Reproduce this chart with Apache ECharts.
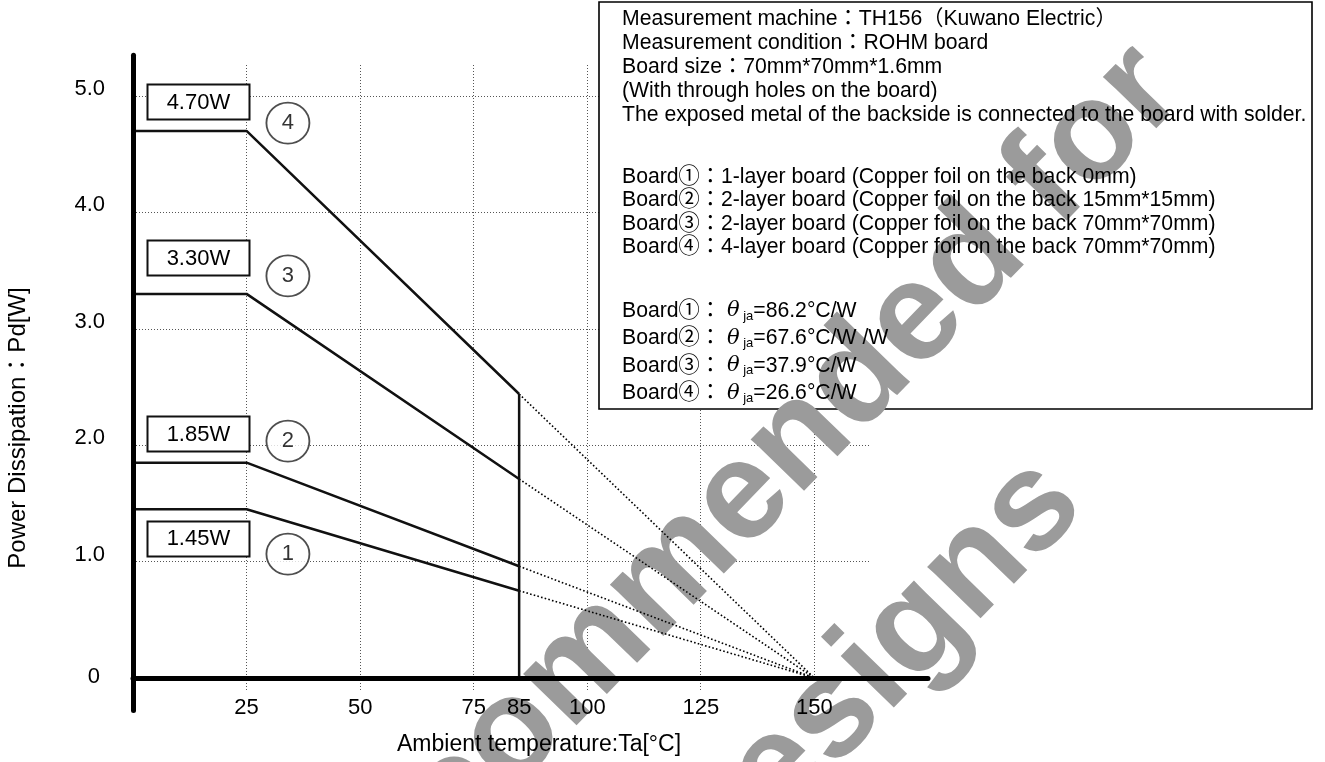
<!DOCTYPE html>
<html><head><meta charset="utf-8">
<script src="https://cdn.jsdelivr.net/npm/echarts@6/dist/echarts.min.js"></script>
<style>html,body{margin:0;padding:0;background:#fff}#c{width:1325px;height:762px}</style>
</head><body><div id="c"></div>
<script>
// ---------- data ----------
const boards = ['1', '2', '3', '4'];
const pdRated = [1.45, 1.85, 3.30, 4.70];      // Pd [W] up to Ta = 25 °C
const pdAt85 = [0.75, 0.96, 1.71, 2.44];       // Pd [W] at Ta = 85 °C
const taKnee = 25;
const taLimit = 85;
const taZero = 150;
const ratedLabels = ['1.45W', '1.85W', '3.30W', '4.70W'];
const xTickLabels = [25, 50, 75, 85, 100, 125, 150];
const xGridValues = [25, 50, 75, 100, 125, 150];
const yTickLabels = [0, 1, 2, 3, 4, 5];
const yGridValues = [1, 2, 3, 4, 5];
// annotation anchors in data coordinates
const boxAnchorX = 14.4;
const boxAnchorY = [1.20, 2.10, 3.61, 4.95];
const circleAnchorX = 34.1;
const circleAnchorY = [1.065, 2.036, 3.454, 4.768];

const noteHead = [
  'Measurement machine：TH156（Kuwano Electric）',
  'Measurement condition：ROHM board',
  'Board size：70mm*70mm*1.6mm',
  '(With through holes on the board)',
  'The exposed metal of the backside is connected to the board with solder.'
];
const noteBoards = [
  'Board①：1-layer board (Copper foil on the back 0mm)',
  'Board②：2-layer board (Copper foil on the back 15mm*15mm)',
  'Board③：2-layer board (Copper foil on the back 70mm*70mm)',
  'Board④：4-layer board (Copper foil on the back 70mm*70mm)'
];
const thetaBoards = ['Board①', 'Board②', 'Board③', 'Board④'];
const thetaValues = ['86.2°C/W', '67.6°C/W /W', '37.9°C/W', '26.6°C/W'];

// ---------- chart ----------
const FONT = '"Liberation Sans", Arial, "Noto Sans CJK JP", sans-serif';
const chart = echarts.init(document.getElementById('c'));

const series = [];
boards.forEach((b, i) => {
  series.push({
    type: 'line', xAxisIndex: 0, yAxisIndex: 0, symbol: 'none', silent: true, z: 2,
    lineStyle: { color: '#111', width: 2.5 },
    data: [[0, pdRated[i]], [taKnee, pdRated[i]], [taLimit, pdAt85[i]]]
  });
  series.push({
    type: 'line', xAxisIndex: 0, yAxisIndex: 0, symbol: 'none', silent: true, z: 2,
    lineStyle: { color: '#000', width: 1.6, type: [1.6, 2.2] },
    data: [[taLimit, pdAt85[i]], [taZero, 0]]
  });
});
series.push({
  type: 'line', xAxisIndex: 0, yAxisIndex: 0, symbol: 'none', silent: true, z: 2,
  lineStyle: { color: '#111', width: 2.5 },
  data: [[taLimit, 0], [taLimit, Math.max(...pdAt85)]]
});
series.push({
  type: 'scatter', xAxisIndex: 0, yAxisIndex: 0, silent: true, z: 3,
  symbol: 'circle', symbolSize: [43, 41],
  itemStyle: { color: '#fff', borderColor: '#222', borderWidth: 1.8 },
  label: { show: true, position: 'inside', fontSize: 22, fontFamily: FONT, color: '#000',
    textBorderWidth: 0, formatter: p => boards[p.dataIndex] },
  data: circleAnchorY.map(v => [circleAnchorX, v])
});

const gridDot = { color: '#555', width: 1, type: [1, 2] };

chart.setOption({
  animation: false,
  backgroundColor: '#fff',
  grid: [
    { left: 133, right: 397, top: 55.3, bottom: 51.4, outerBoundsMode: 'none', containLabel: false },
    { left: 133, width: 738, top: 65, height: 625, outerBoundsMode: 'none', containLabel: false }
  ],
  xAxis: [
    {
      gridIndex: 0, type: 'value', min: 0, max: 175, z: 5,
      name: 'Ambient temperature:Ta[°C]', nameLocation: 'middle', nameGap: 23,
      nameTextStyle: { fontSize: 23, fontFamily: FONT, color: '#000', padding: [0, 0, 0, 17] },
      axisLine: { show: true, onZero: true, lineStyle: { color: '#000', width: 5 } },
      axisTick: { show: false, customValues: xTickLabels },
      axisLabel: { customValues: xTickLabels, fontSize: 22, fontFamily: FONT, color: '#000', margin: -14 },
      splitLine: { show: false }
    },
    {
      gridIndex: 1, type: 'value', min: 0, max: 162.5, z: 0,
      axisLine: { show: false }, axisLabel: { show: false },
      axisTick: { show: false, customValues: xGridValues },
      splitLine: { show: true, lineStyle: gridDot }
    }
  ],
  yAxis: [
    {
      gridIndex: 0, type: 'value', min: -0.28, max: 5.35, z: 5,
      axisLine: { show: true, onZero: true, lineStyle: { color: '#000', width: 5 } },
      axisTick: { show: false, customValues: yTickLabels },
      axisLabel: {
        customValues: yTickLabels, fontSize: 22, fontFamily: FONT, color: '#000', margin: 28,
        formatter: v => v === 0 ? '{z|0}' : '{n|' + v.toFixed(1) + '}',
        rich: {
          n: { fontSize: 22, fontFamily: FONT, color: '#000', padding: [0, 0, 14, 0] },
          z: { fontSize: 22, fontFamily: FONT, color: '#000', padding: [0, 5, 3, 0] }
        }
      },
      splitLine: { show: false }
    },
    {
      gridIndex: 1, type: 'value', min: -0.103, max: 5.266, z: 0,
      axisLine: { show: false }, axisLabel: { show: false },
      axisTick: { show: false, customValues: yGridValues },
      splitLine: { show: true, lineStyle: gridDot }
    }
  ],
  series: series
});

// ---------- annotations / notes ----------
const graphics = [];
graphics.push({
  type: 'rect', z: 0, shape: { x: 599, y: 2, width: 713, height: 407 },
  style: { fill: '#fff', stroke: '#000', lineWidth: 1.6 }
});
graphics.push({
  type: 'text', z: 1, x: 1210, y: 118, rotation: 0.80,
  style: { text: 'Not Recommended for', fontSize: 140, fontWeight: 'bold', fontFamily: FONT,
    fill: '#9b9b9b', align: 'right', verticalAlign: 'bottom' }
});
graphics.push({
  type: 'text', z: 1, x: 1110, y: 530, rotation: 0.80,
  style: { text: 'New Designs', fontSize: 140, fontWeight: 'bold', fontFamily: FONT,
    fill: '#9b9b9b', align: 'right', verticalAlign: 'bottom' }
});
boxAnchorY.forEach((v, i) => {
  const p = chart.convertToPixel({ gridIndex: 0 }, [boxAnchorX, v]);
  graphics.push({
    type: 'rect', z: 20, shape: { x: Math.round(p[0] - 51.5) + 0.5, y: Math.round(p[1] - 17.5) + 0.5, width: 102, height: 35 },
    style: { fill: '#fff', stroke: '#111', lineWidth: 2 }
  });
  graphics.push({
    type: 'text', z: 21, x: p[0], y: p[1] + 1,
    style: { text: ratedLabels[i], fontSize: 22, fontFamily: FONT, fill: '#000', align: 'center', verticalAlign: 'middle' }
  });
});
const boxTextStyle = { fontSize: 21.2, fontFamily: FONT, fill: '#000', align: 'left', verticalAlign: 'middle' };
noteHead.forEach((t, i) => graphics.push({
  type: 'text', z: 10, x: 622, y: 19 + i * 24, style: Object.assign({ text: t }, boxTextStyle)
}));
noteBoards.forEach((t, i) => graphics.push({
  type: 'text', z: 10, x: 622, y: 177 + i * 23.5, style: Object.assign({ text: t }, boxTextStyle)
}));
thetaBoards.forEach((t, i) => graphics.push({
  type: 'text', z: 10, x: 622, y: 311 + i * 27.4,
  style: Object.assign({}, boxTextStyle, {
    text: '{t|' + t + '：}{th|θ}{sub| ja}{t|=' + thetaValues[i] + '}',
    rich: {
      t: { fontSize: 21.2, fontFamily: FONT, fill: '#000' },
      th: { fontSize: 21, fontFamily: '"DejaVu Serif", serif', fontStyle: 'italic', fill: '#000', padding: [0, 0, 0, 6] },
      sub: { fontSize: 13, fontFamily: FONT, fill: '#000', padding: [10, 0, 0, 0] }
    }
  })
}));
graphics.push({
  type: 'text', z: 10, x: 18, y: 428, rotation: Math.PI / 2,
  style: { text: 'Power Dissipation：Pd[W]', fontSize: 24, fontFamily: FONT, fill: '#000',
    align: 'center', verticalAlign: 'middle' }
});
chart.setOption({ graphic: graphics });
</script></body></html>
